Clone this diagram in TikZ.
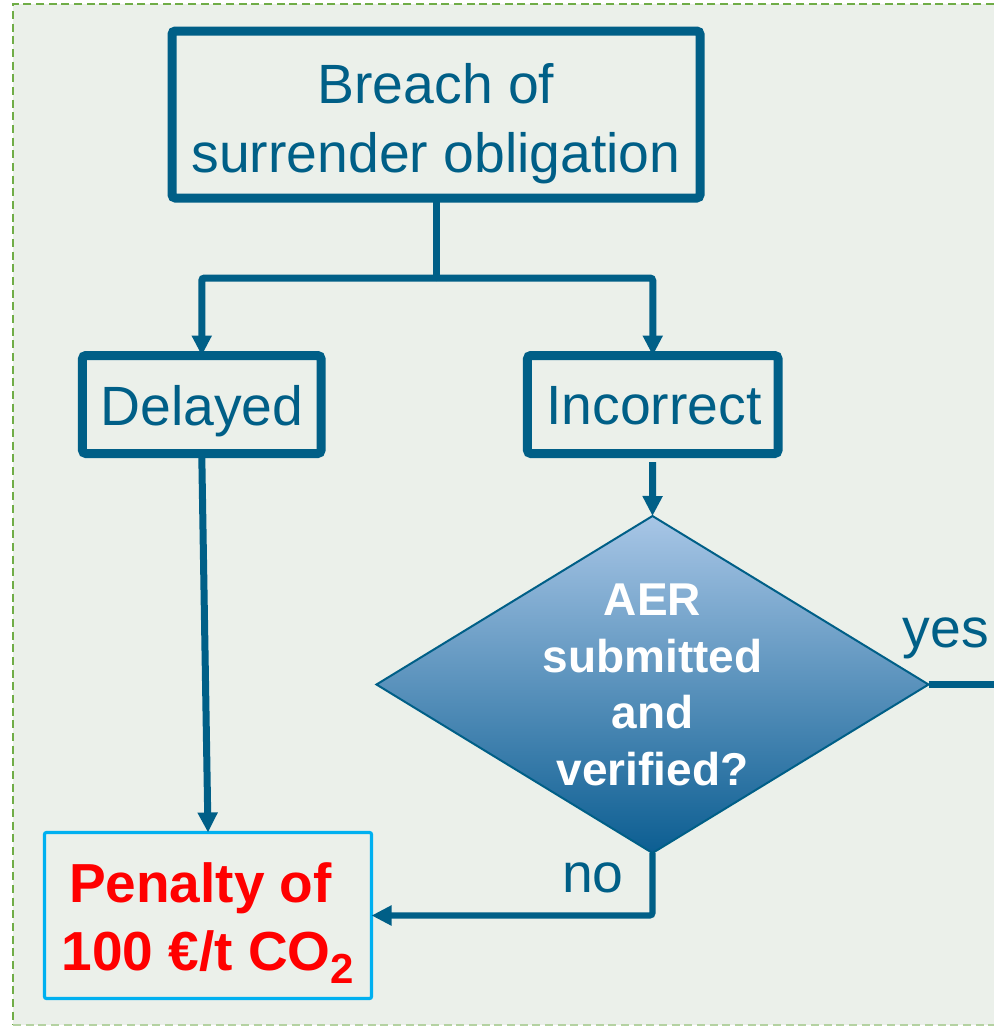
\documentclass[tikz,border=0pt]{standalone}
\usepackage{fontspec}
\setmainfont{Liberation Sans}
\usetikzlibrary{shapes.geometric,arrows.meta}
\definecolor{bgc}{HTML}{EBF0EA}
\definecolor{framec}{HTML}{70AD47}
\definecolor{tealc}{HTML}{005F87}
\definecolor{cyanb}{HTML}{00B0F0}
\definecolor{dtop}{HTML}{A8C6E6}
\definecolor{dbot}{HTML}{0C5E92}
\definecolor{pred}{HTML}{FF0000}
\tikzset{
  thickbox/.style={draw=tealc, line width=6.75pt, rounded corners=2.5pt, inner sep=0pt, outer sep=0pt, rectangle},
  penbox/.style={draw=cyanb, line width=2.4pt, rounded corners=1.5pt, inner sep=0pt, outer sep=0pt, rectangle},
  decision/.style={diamond, draw=tealc, line width=1.5pt, inner sep=0pt, outer sep=0pt, top color=dtop, bottom color=dbot, shading angle=0},
  conn/.style={draw=tealc, line width=5.25pt, rounded corners=2pt},
  connthin/.style={draw=tealc, line width=4.6pt, rounded corners=2pt},
  arr/.style={-{Triangle[width=14.25pt,length=15pt]}},
  txt/.style={inner sep=0pt, outer sep=0pt, text=tealc, font=\fontsize{41.5}{50}\selectfont},
  wtxt/.style={inner sep=0pt, outer sep=0pt, text=white, font=\fontsize{34.5}{42}\selectfont\bfseries},
  rtxt/.style={inner sep=0pt, outer sep=0pt, text=pred, font=\fontsize{41.25}{50}\selectfont\bfseries}
}
\begin{document}
\begin{tikzpicture}[x=0.75pt,y=-0.75pt]
\useasboundingbox (0,0) rectangle (994,1026);
\fill[white] (0,0) rectangle (994,1026);
\fill[bgc] (13,4) rectangle (994,1025);
\draw[framec, line width=1.4pt, dash pattern=on 6pt off 3.5pt] (994,4) -- (13,4) -- (13,1025);
\draw[framec!45!bgc, line width=1.4pt, dash pattern=on 6pt off 3.5pt] (13,1025) -- (994,1025);

% shapes
\node[thickbox, minimum width=396pt, minimum height=125.25pt] (breach) at (436,114.5) {};
\node[thickbox, minimum width=178.9pt, minimum height=73.5pt] (delayed) at (201.75,404.5) {};
\node[thickbox, minimum width=187.9pt, minimum height=73.5pt] (incorrect) at (652.75,404.5) {};
\node[decision, minimum width=414pt, minimum height=252.75pt] (dia) at (652.5,684.5) {};
\node[penbox, minimum width=245.25pt, minimum height=124.5pt] (penalty) at (208,915.5) {};

% texts
\node[txt, anchor=base] (tb1) at (436,103) {Breach of};
\node[txt, anchor=base] (tb2) at (436,172) {surrender obligation};
\node[txt, anchor=base] (td) at (202,425) {Delayed};
\node[txt, anchor=base] (ti) at (654,424) {Incorrect};
\node[wtxt, anchor=base] (ta1) at (652.5,615) {AER};
\node[wtxt, anchor=base] (ta2) at (652.5,672) {submitted};
\node[wtxt, anchor=base] (ta3) at (652.5,728) {and};
\node[wtxt, anchor=base] (ta4) at (652.5,785) {verified?};
\node[txt, anchor=base] (tyes) at (946,647) {yes};
\node[txt, anchor=base] (tno) at (593,892) {no};
\node[rtxt, anchor=base] (tp1) at (200.5,902) {Penalty of};
\node[rtxt, anchor=base] (tp2) at (208,970) {100 €/t CO\raisebox{-9.75pt}{\fontsize{31.5}{36}\selectfont 2}};

% connectors
\coordinate (j) at (436,278);
\coordinate (yesend) at (1000,684.5);
\draw[conn] (breach.south) -- (j);
\draw[conn, arr] (j) -| (delayed.north);
\draw[conn, arr] (j) -| (incorrect.north);
\draw[conn, arr] (delayed.south) -- (penalty.north);
\draw[conn, arr, shorten <=6.5pt] (incorrect.south) -- (dia.north);
\draw[connthin] (dia.east) -- (yesend);
\draw[connthin, arr] (dia.south) |- (penalty.east);
\end{tikzpicture}
\end{document}
